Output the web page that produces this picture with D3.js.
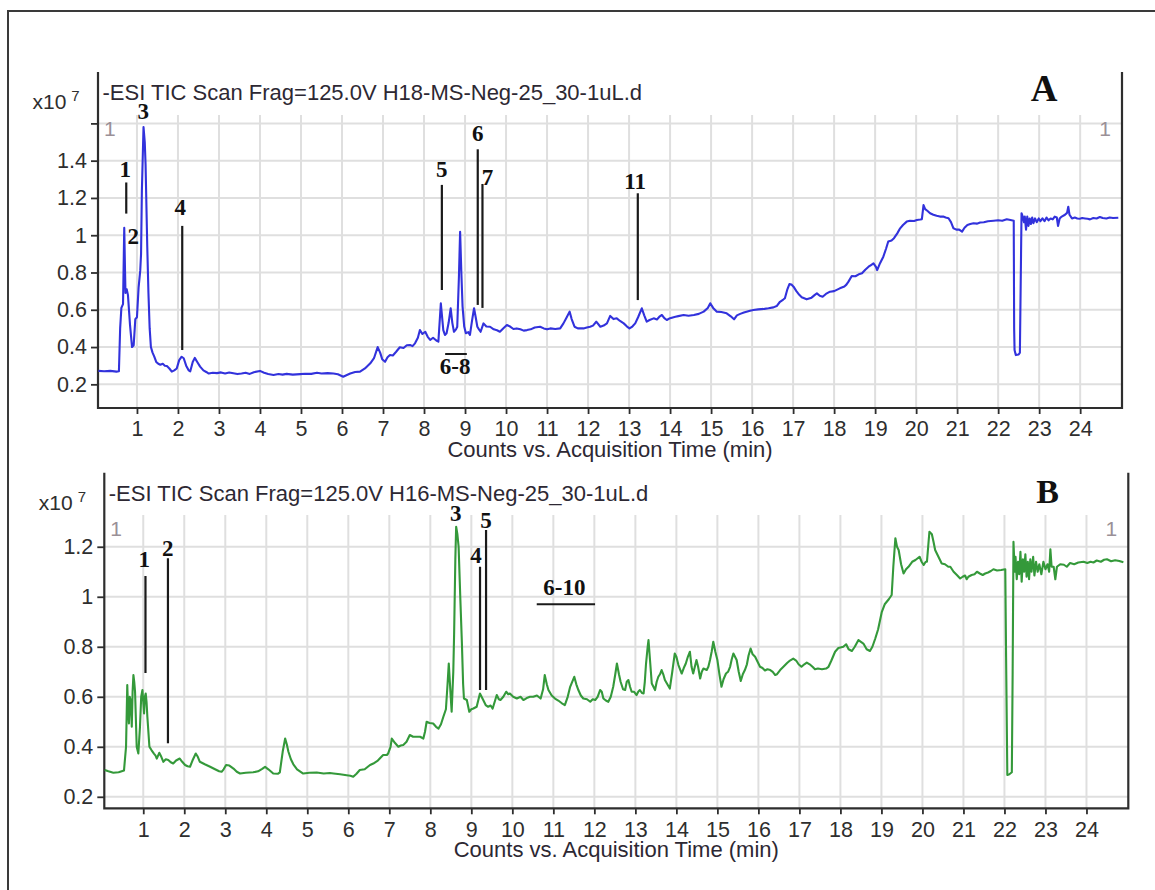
<!DOCTYPE html>
<html>
<head>
<meta charset="utf-8">
<script src="https://cdn.jsdelivr.net/npm/d3@7"></script>
<style>
  body { margin: 0; background: #fff; }
  svg { display: block; }
</style>
</head>
<body>
<svg id="chart" width="1155" height="890"></svg>
<script>
// ---- data (time in min, counts x10^7) ----
const timeTicks = [1, 2, 3, 4, 5, 6, 7, 8, 9, 10, 11, 12, 13, 14, 15, 16, 17, 18, 19, 20, 21, 22, 23, 24];
const yTicksA = [0.2, 0.4, 0.6, 0.8, 1.0, 1.2, 1.4, 1.6];
const yLabelsA = ["0.2", "0.4", "0.6", "0.8", "1", "1.2", "1.4", ""];
const yTicksB = [0.2, 0.4, 0.6, 0.8, 1.0, 1.2];
const yLabelsB = ["0.2", "0.4", "0.6", "0.8", "1", "1.2"];

const titleA = "-ESI TIC Scan Frag=125.0V H18-MS-Neg-25_30-1uL.d";
const titleB = "-ESI TIC Scan Frag=125.0V H16-MS-Neg-25_30-1uL.d";
const xTitle = "Counts vs. Acquisition Time (min)";

const traceA = [[0.06,0.272],[0.2,0.270],[0.35,0.272],[0.5,0.268],[0.56,0.27],[0.59,0.50],[0.62,0.61],[0.66,0.63],[0.69,1.04],[0.71,0.80],[0.72,0.69],[0.75,0.71],[0.78,0.68],[0.83,0.52],[0.88,0.40],[0.92,0.41],[0.96,0.55],[1.0,0.56],[1.04,0.72],[1.08,0.81],[1.10,0.90],[1.12,1.24],[1.16,1.58],[1.19,1.50],[1.21,1.38],[1.25,0.95],[1.28,0.69],[1.31,0.50],[1.34,0.40],[1.38,0.37],[1.42,0.35],[1.47,0.32],[1.52,0.31],[1.57,0.305],[1.63,0.31],[1.68,0.30],[1.73,0.298],[1.79,0.285],[1.85,0.268],[1.91,0.275],[1.97,0.285],[2.03,0.33],[2.09,0.348],[2.14,0.340],[2.2,0.30],[2.26,0.275],[2.30,0.27],[2.36,0.32],[2.41,0.342],[2.47,0.32],[2.54,0.295],[2.62,0.275],[2.70,0.265],[2.75,0.258],[2.85,0.262],[2.95,0.26],[3.05,0.264],[3.15,0.258],[3.25,0.263],[3.35,0.259],[3.45,0.255],[3.55,0.258],[3.65,0.262],[3.75,0.256],[3.85,0.265],[4.0,0.272],[4.1,0.262],[4.2,0.255],[4.33,0.25],[4.45,0.255],[4.55,0.252],[4.65,0.256],[4.8,0.252],[4.98,0.255],[5.1,0.257],[5.25,0.256],[5.39,0.262],[5.5,0.258],[5.65,0.26],[5.79,0.258],[5.9,0.254],[6.03,0.241],[6.12,0.25],[6.2,0.258],[6.32,0.266],[6.44,0.268],[6.56,0.285],[6.69,0.313],[6.78,0.34],[6.87,0.40],[6.93,0.37],[6.98,0.335],[7.05,0.321],[7.11,0.345],[7.17,0.357],[7.24,0.355],[7.32,0.375],[7.41,0.399],[7.5,0.395],[7.58,0.41],[7.66,0.411],[7.72,0.405],[7.78,0.42],[7.85,0.45],[7.90,0.491],[7.96,0.47],[8.03,0.482],[8.09,0.455],[8.15,0.438],[8.22,0.45],[8.30,0.435],[8.35,0.429],[8.41,0.635],[8.47,0.491],[8.51,0.465],[8.55,0.474],[8.60,0.53],[8.65,0.608],[8.69,0.53],[8.73,0.482],[8.78,0.495],[8.81,0.509],[8.85,0.77],[8.88,1.019],[8.91,0.80],[8.94,0.617],[8.98,0.51],[9.02,0.474],[9.08,0.48],[9.12,0.465],[9.17,0.54],[9.22,0.608],[9.26,0.56],[9.30,0.509],[9.34,0.495],[9.38,0.482],[9.45,0.527],[9.52,0.51],[9.61,0.509],[9.7,0.495],[9.78,0.49],[9.85,0.482],[9.93,0.5],[10.02,0.518],[10.1,0.51],[10.18,0.497],[10.26,0.50],[10.35,0.495],[10.43,0.488],[10.51,0.491],[10.6,0.495],[10.7,0.505],[10.83,0.509],[10.92,0.50],[11.0,0.495],[11.08,0.50],[11.2,0.497],[11.32,0.50],[11.40,0.527],[11.48,0.56],[11.55,0.59],[11.6,0.55],[11.67,0.509],[11.75,0.50],[11.89,0.50],[11.97,0.505],[12.05,0.509],[12.12,0.515],[12.20,0.536],[12.30,0.509],[12.38,0.515],[12.46,0.527],[12.54,0.567],[12.62,0.55],[12.70,0.554],[12.78,0.54],[12.87,0.527],[12.95,0.51],[13.01,0.50],[13.08,0.51],[13.15,0.527],[13.22,0.56],[13.31,0.608],[13.37,0.57],[13.43,0.536],[13.50,0.545],[13.60,0.554],[13.68,0.548],[13.75,0.565],[13.80,0.572],[13.86,0.555],[13.92,0.545],[14.0,0.555],[14.13,0.563],[14.2,0.566],[14.33,0.572],[14.45,0.568],[14.58,0.572],[14.7,0.578],[14.82,0.59],[14.92,0.61],[14.98,0.635],[15.05,0.61],[15.14,0.59],[15.25,0.588],[15.38,0.581],[15.48,0.565],[15.56,0.549],[15.63,0.57],[15.71,0.578],[15.8,0.585],[15.95,0.595],[16.03,0.599],[16.15,0.602],[16.3,0.605],[16.4,0.608],[16.52,0.613],[16.6,0.62],[16.68,0.643],[16.76,0.655],[16.80,0.662],[16.86,0.71],[16.91,0.738],[16.96,0.735],[17.01,0.724],[17.08,0.70],[17.15,0.68],[17.21,0.667],[17.33,0.656],[17.45,0.665],[17.53,0.68],[17.58,0.688],[17.65,0.675],[17.72,0.67],[17.80,0.685],[17.90,0.697],[18.0,0.70],[18.14,0.715],[18.25,0.725],[18.3,0.735],[18.35,0.751],[18.43,0.781],[18.52,0.78],[18.60,0.79],[18.68,0.796],[18.76,0.815],[18.84,0.831],[18.90,0.84],[18.96,0.849],[19.02,0.83],[19.05,0.813],[19.12,0.85],[19.20,0.885],[19.27,0.93],[19.32,0.966],[19.40,0.972],[19.46,0.984],[19.54,1.01],[19.61,1.037],[19.68,1.055],[19.77,1.073],[19.85,1.078],[19.95,1.076],[20.02,1.082],[20.10,1.084],[20.14,1.086],[20.18,1.162],[20.22,1.14],[20.28,1.13],[20.34,1.118],[20.42,1.11],[20.5,1.104],[20.58,1.10],[20.66,1.10],[20.72,1.095],[20.79,1.091],[20.85,1.07],[20.91,1.037],[20.98,1.03],[21.05,1.03],[21.12,1.019],[21.18,1.04],[21.25,1.055],[21.32,1.06],[21.4,1.064],[21.48,1.062],[21.56,1.068],[21.65,1.07],[21.75,1.075],[21.89,1.078],[22.0,1.08],[22.1,1.078],[22.21,1.086],[22.3,1.082],[22.38,1.078],[22.39,0.50],[22.40,0.384],[22.43,0.357],[22.5,0.36],[22.53,0.37],[22.57,1.118],[22.60,1.10],[22.63,1.07],[22.65,1.10],[22.68,1.03],[22.71,1.10],[22.74,1.05],[22.77,1.09],[22.80,1.06],[22.83,1.095],[22.86,1.065],[22.90,1.09],[22.94,1.07],[22.99,1.09],[23.03,1.075],[23.08,1.09],[23.13,1.075],[23.18,1.095],[23.23,1.08],[23.28,1.09],[23.33,1.085],[23.38,1.10],[23.43,1.095],[23.46,1.05],[23.50,1.09],[23.55,1.10],[23.63,1.11],[23.68,1.12],[23.71,1.153],[23.74,1.11],[23.80,1.09],[23.87,1.095],[23.93,1.09],[23.99,1.088],[24.05,1.092],[24.12,1.09],[24.18,1.088],[24.24,1.085],[24.32,1.092],[24.40,1.09],[24.48,1.098],[24.55,1.092],[24.64,1.09],[24.72,1.095],[24.8,1.092],[24.93,1.094]];

const traceB = [[0.06,0.307],[0.15,0.302],[0.27,0.296],[0.4,0.298],[0.53,0.305],[0.58,0.40],[0.61,0.647],[0.63,0.55],[0.65,0.493],[0.67,0.60],[0.69,0.587],[0.71,0.52],[0.72,0.48],[0.74,0.62],[0.76,0.687],[0.78,0.66],[0.80,0.62],[0.84,0.40],[0.88,0.373],[0.92,0.48],[0.95,0.60],[0.98,0.627],[1.00,0.58],[1.02,0.533],[1.04,0.60],[1.06,0.613],[1.08,0.58],[1.10,0.52],[1.15,0.40],[1.20,0.387],[1.26,0.373],[1.30,0.365],[1.33,0.353],[1.39,0.376],[1.44,0.36],[1.49,0.34],[1.55,0.35],[1.61,0.347],[1.67,0.338],[1.73,0.333],[1.80,0.345],[1.89,0.353],[1.95,0.34],[2.02,0.327],[2.08,0.322],[2.14,0.32],[2.2,0.345],[2.28,0.373],[2.33,0.36],[2.38,0.34],[2.5,0.33],[2.63,0.32],[2.75,0.31],[2.85,0.302],[2.91,0.30],[2.96,0.31],[3.02,0.327],[3.1,0.325],[3.20,0.313],[3.28,0.30],[3.36,0.293],[3.5,0.296],[3.68,0.298],[3.8,0.302],[3.90,0.312],[3.97,0.32],[4.05,0.31],[4.17,0.293],[4.28,0.292],[4.33,0.298],[4.40,0.38],[4.46,0.433],[4.50,0.41],[4.54,0.38],[4.60,0.35],[4.66,0.33],[4.75,0.31],[4.90,0.293],[5.05,0.296],[5.23,0.297],[5.4,0.293],[5.55,0.295],[5.64,0.293],[5.8,0.29],[5.96,0.286],[6.05,0.284],[6.12,0.28],[6.2,0.292],[6.28,0.307],[6.4,0.31],[6.53,0.327],[6.61,0.333],[6.72,0.345],[6.85,0.367],[6.94,0.367],[6.97,0.373],[7.03,0.40],[7.06,0.433],[7.14,0.415],[7.22,0.40],[7.28,0.405],[7.34,0.407],[7.42,0.42],[7.50,0.447],[7.58,0.44],[7.67,0.44],[7.75,0.44],[7.83,0.433],[7.87,0.46],[7.91,0.50],[7.98,0.495],[8.07,0.493],[8.14,0.48],[8.20,0.473],[8.26,0.49],[8.32,0.521],[8.38,0.55],[8.42,0.65],[8.45,0.733],[8.49,0.62],[8.52,0.54],[8.56,0.70],[8.58,0.85],[8.61,1.15],[8.63,1.28],[8.66,1.25],[8.69,1.20],[8.73,1.0],[8.77,0.814],[8.80,0.65],[8.82,0.593],[8.89,0.587],[8.95,0.54],[9.0,0.55],[9.05,0.553],[9.13,0.56],[9.21,0.613],[9.25,0.60],[9.29,0.587],[9.35,0.567],[9.41,0.56],[9.47,0.565],[9.52,0.553],[9.57,0.58],[9.62,0.607],[9.67,0.59],[9.71,0.587],[9.78,0.60],[9.85,0.62],[9.90,0.61],[9.94,0.613],[10.02,0.60],[10.11,0.593],[10.2,0.6],[10.27,0.587],[10.35,0.595],[10.43,0.6],[10.51,0.6],[10.6,0.605],[10.69,0.593],[10.75,0.63],[10.79,0.687],[10.84,0.65],[10.88,0.627],[10.96,0.605],[11.04,0.593],[11.12,0.585],[11.20,0.575],[11.28,0.567],[11.35,0.6],[11.41,0.64],[11.51,0.68],[11.56,0.65],[11.61,0.627],[11.67,0.605],[11.73,0.593],[11.82,0.59],[11.90,0.58],[11.96,0.59],[12.02,0.587],[12.08,0.6],[12.14,0.627],[12.18,0.62],[12.22,0.593],[12.28,0.585],[12.34,0.58],[12.40,0.6],[12.46,0.64],[12.51,0.69],[12.55,0.733],[12.60,0.69],[12.64,0.66],[12.70,0.63],[12.75,0.627],[12.79,0.66],[12.83,0.667],[12.87,0.64],[12.91,0.62],[12.97,0.62],[13.03,0.607],[13.07,0.62],[13.11,0.627],[13.16,0.615],[13.20,0.613],[13.23,0.66],[13.26,0.733],[13.30,0.8],[13.32,0.827],[13.36,0.74],[13.40,0.653],[13.44,0.64],[13.48,0.627],[13.52,0.66],[13.56,0.68],[13.60,0.69],[13.64,0.707],[13.68,0.69],[13.72,0.667],[13.78,0.65],[13.84,0.633],[13.90,0.70],[13.96,0.773],[14.00,0.76],[14.05,0.727],[14.09,0.71],[14.13,0.693],[14.18,0.715],[14.23,0.733],[14.28,0.76],[14.33,0.78],[14.37,0.72],[14.41,0.693],[14.45,0.72],[14.49,0.747],[14.53,0.72],[14.58,0.673],[14.62,0.70],[14.66,0.713],[14.70,0.71],[14.74,0.707],[14.78,0.72],[14.82,0.747],[14.86,0.78],[14.90,0.82],[14.95,0.78],[15.00,0.747],[15.05,0.69],[15.10,0.64],[15.15,0.67],[15.21,0.693],[15.26,0.70],[15.31,0.72],[15.35,0.75],[15.39,0.773],[15.43,0.76],[15.47,0.747],[15.52,0.70],[15.57,0.663],[15.62,0.69],[15.67,0.707],[15.72,0.73],[15.76,0.765],[15.81,0.793],[15.86,0.77],[15.92,0.76],[15.98,0.74],[16.04,0.72],[16.10,0.715],[16.16,0.705],[16.22,0.71],[16.29,0.707],[16.35,0.70],[16.41,0.687],[16.45,0.69],[16.53,0.707],[16.61,0.72],[16.70,0.735],[16.77,0.745],[16.85,0.753],[16.92,0.745],[16.98,0.73],[17.05,0.72],[17.12,0.73],[17.18,0.737],[17.25,0.73],[17.32,0.72],[17.38,0.71],[17.45,0.713],[17.55,0.71],[17.65,0.713],[17.71,0.72],[17.78,0.745],[17.87,0.78],[17.95,0.795],[18.07,0.80],[18.14,0.81],[18.20,0.79],[18.28,0.783],[18.35,0.80],[18.44,0.827],[18.50,0.82],[18.56,0.813],[18.64,0.79],[18.72,0.783],[18.78,0.80],[18.85,0.833],[18.92,0.87],[19.01,0.94],[19.08,0.97],[19.18,0.99],[19.25,1.007],[19.29,1.12],[19.34,1.234],[19.38,1.20],[19.42,1.187],[19.48,1.13],[19.54,1.093],[19.60,1.11],[19.66,1.12],[19.75,1.14],[19.83,1.147],[19.93,1.16],[19.98,1.14],[20.03,1.127],[20.08,1.14],[20.11,1.14],[20.14,1.20],[20.17,1.26],[20.20,1.255],[20.23,1.25],[20.27,1.22],[20.31,1.187],[20.39,1.16],[20.47,1.133],[20.55,1.13],[20.63,1.12],[20.68,1.12],[20.76,1.10],[20.84,1.087],[20.92,1.073],[20.98,1.08],[21.04,1.085],[21.08,1.07],[21.12,1.08],[21.20,1.087],[21.27,1.09],[21.33,1.10],[21.40,1.093],[21.47,1.087],[21.53,1.093],[21.60,1.097],[21.67,1.103],[21.73,1.11],[21.82,1.105],[21.92,1.107],[22.02,1.11],[22.04,0.76],[22.07,0.287],[22.12,0.29],[22.18,0.298],[22.20,0.70],[22.22,1.22],[22.25,1.10],[22.27,1.16],[22.30,1.07],[22.33,1.14],[22.36,1.09],[22.39,1.18],[22.42,1.06],[22.45,1.15],[22.48,1.10],[22.51,1.17],[22.54,1.08],[22.57,1.14],[22.60,1.07],[22.63,1.15],[22.66,1.10],[22.70,1.16],[22.73,1.085],[22.77,1.14],[22.81,1.10],[22.85,1.13],[22.90,1.09],[22.95,1.14],[23.00,1.11],[23.05,1.13],[23.09,1.10],[23.12,1.19],[23.15,1.12],[23.20,1.12],[23.24,1.07],[23.28,1.12],[23.36,1.13],[23.45,1.128],[23.52,1.12],[23.60,1.135],[23.70,1.13],[23.80,1.137],[23.93,1.14],[24.02,1.135],[24.10,1.14],[24.17,1.137],[24.25,1.145],[24.35,1.14],[24.43,1.148],[24.50,1.15],[24.60,1.142],[24.70,1.146],[24.80,1.143],[24.90,1.138]];

// peak labels: text centre t, baseline v; optional leader line [t, vTop, vBottom]; optional bar [t0, t1, v]
const peaksA = [
  { label: "1", t: 0.714, v: 1.31, line: [0.739, 1.283, 1.116] },
  { label: "2", t: 0.909, v: 0.953 },
  { label: "3", t: 1.153, v: 1.624 },
  { label: "4", t: 2.055, v: 1.106, line: [2.104, 1.05, 0.384] },
  { label: "5", t: 8.435, v: 1.31, line: [8.435, 1.27, 0.706] },
  { label: "6", t: 9.31, v: 1.503, line: [9.31, 1.461, 0.626] },
  { label: "7", t: 9.547, v: 1.271, line: [9.425, 1.275, 0.61] },
  { label: "11", t: 13.147, v: 1.247, line: [13.213, 1.225, 0.652] },
  { label: "6-8", t: 8.759, v: 0.254, bar: [8.515, 9.044, 0.3626] }
];
const peaksB = [
  { label: "1", t: 1.024, v: 1.12, line: [1.054, 1.083, 0.695] },
  { label: "2", t: 1.595, v: 1.164, line: [1.602, 1.154, 0.414] },
  { label: "3", t: 8.62, v: 1.304 },
  { label: "4", t: 9.115, v: 1.137, line: [9.212, 1.12, 0.627] },
  { label: "5", t: 9.359, v: 1.277, line: [9.359, 1.267, 0.627] },
  { label: "6-10", t: 11.268, v: 1.007, bar: [10.595, 12.017, 0.97] }
];

const panels = [
  { title: titleA, trace: traceA, color: "#3232dc", tDomain: [0.05, 25.02], vDomain: [0.073, 1.645],
    yTicks: yTicksA, yLabels: yLabelsA, peaks: peaksA,
    letter: { text: "A", t: 23.118, v: 1.722, size: 37 },
    box: { left: 98, right: 1122, axisTop: 72, gridTop: 115, bottom: 408 } },
  { title: titleB, trace: traceB, color: "#34993a", tDomain: [0.05, 25.02], vDomain: [0.154, 1.327],
    yTicks: yTicksB, yLabels: yLabelsB, peaks: peaksB,
    letter: { text: "B", t: 23.05, v: 1.376, size: 34 },
    box: { left: 104.3, right: 1128.3, axisTop: 472.7, gridTop: 515, bottom: 808.3 } }
];

const svg = d3.select("#chart");
const sans = "'Liberation Sans', Arial, sans-serif";
const serif = "'Liberation Serif', 'Times New Roman', serif";
const ink = "#2e2e2e";

svg.append("rect").attr("width", 1155).attr("height", 890).attr("fill", "#fff");
// outer frame (runs off the right and bottom edges)
svg.append("rect")
  .attr("x", 8).attr("y", 11).attr("width", 1170).attr("height", 900)
  .attr("fill", "none").attr("stroke", "#3a3a3a").attr("stroke-width", 2);

panels.forEach(p => drawPanel(p));

function drawPanel(p) {
  const b = p.box;
  const x = d3.scaleLinear().domain(p.tDomain).range([b.left, b.right]);
  const y = d3.scaleLinear().domain(p.vDomain).range([b.bottom, b.gridTop]);
  const g = svg.append("g");

  // grid
  g.append("g").selectAll("line").data(timeTicks).join("line")
    .attr("x1", d => x(d)).attr("x2", d => x(d))
    .attr("y1", b.gridTop).attr("y2", b.bottom)
    .attr("stroke", "#dfdfdf").attr("stroke-width", 2);
  g.append("g").selectAll("line").data(p.yTicks).join("line")
    .attr("x1", b.left).attr("x2", b.right)
    .attr("y1", d => y(d)).attr("y2", d => y(d))
    .attr("stroke", "#dfdfdf").attr("stroke-width", 2);

  // axes (ticks + labels from d3, frame lines drawn below)
  const xAxis = g.append("g")
    .attr("transform", `translate(0,${b.bottom})`)
    .call(d3.axisBottom(x).tickValues(timeTicks).tickSize(6).tickSizeOuter(0).tickPadding(7).tickFormat(d3.format("d")));
  const yAxis = g.append("g")
    .attr("transform", `translate(${b.left},0)`)
    .call(d3.axisLeft(y).tickValues(p.yTicks).tickSize(7).tickSizeOuter(0).tickPadding(4)
      .tickFormat((d, i) => p.yLabels[i]));
  [xAxis, yAxis].forEach(a => {
    a.select(".domain").remove();
    a.selectAll(".tick line").attr("stroke", ink).attr("stroke-width", 1.8);
    a.selectAll(".tick text").attr("fill", ink).style("font-family", sans).style("font-size", "21.5px");
  });

  // axis frame: left, bottom, right
  g.append("path")
    .attr("d", `M${b.left},${b.axisTop}V${b.bottom}H${b.right}V${b.axisTop}`)
    .attr("fill", "none").attr("stroke", ink).attr("stroke-width", 2.2);

  // trace
  const line = d3.line().x(d => x(d[0])).y(d => y(d[1]));
  g.append("path").datum(p.trace)
    .attr("d", line)
    .attr("fill", "none").attr("stroke", p.color).attr("stroke-width", 2.1)
    .attr("stroke-linejoin", "round");

  // titles and scale note
  g.append("text").attr("x", b.left + 4.5).attr("y", b.axisTop + 28)
    .attr("fill", "#2d2833").style("font-family", sans).style("font-size", "22px")
    .text(p.title);
  const note = g.append("text").attr("x", b.left - 65.5).attr("y", b.axisTop + 37)
    .attr("fill", ink).style("font-family", sans).style("font-size", "21px");
  note.append("tspan").text("x10");
  note.append("tspan").attr("dx", 5).attr("dy", -8).style("font-size", "15px").text("7");
  g.append("text")
    .attr("x", (b.left + b.right) / 2).attr("y", b.bottom + 48.5)
    .attr("text-anchor", "middle").attr("fill", "#2d2833")
    .style("font-family", sans).style("font-size", "22px")
    .text(xTitle);

  // trace number "1" in the corners
  [[b.left + 6, "start"], [b.right - 11, "end"]].forEach(([tx, anchor]) => {
    g.append("text").attr("x", tx).attr("y", b.gridTop + 21)
      .attr("text-anchor", anchor).attr("fill", "#9a9097")
      .style("font-family", sans).style("font-size", "21px").text("1");
  });

  // peak annotations
  const ann = g.append("g");
  p.peaks.forEach(k => {
    ann.append("text").attr("x", x(k.t)).attr("y", y(k.v))
      .attr("text-anchor", "middle").attr("fill", "#111")
      .style("font-family", serif).style("font-weight", "bold").style("font-size", "23px")
      .text(k.label);
    if (k.line) {
      ann.append("line")
        .attr("x1", x(k.line[0])).attr("x2", x(k.line[0]))
        .attr("y1", y(k.line[1])).attr("y2", y(k.line[2]))
        .attr("stroke", "#1a1a1a").attr("stroke-width", 2.2);
    }
    if (k.bar) {
      ann.append("line")
        .attr("x1", x(k.bar[0])).attr("x2", x(k.bar[1]))
        .attr("y1", y(k.bar[2])).attr("y2", y(k.bar[2]))
        .attr("stroke", "#1a1a1a").attr("stroke-width", 2);
    }
  });

  g.append("text").attr("x", x(p.letter.t)).attr("y", y(p.letter.v))
    .attr("text-anchor", "middle").attr("fill", "#111")
    .style("font-family", serif).style("font-weight", "bold").style("font-size", p.letter.size + "px")
    .text(p.letter.text);
}
</script>
</body>
</html>
